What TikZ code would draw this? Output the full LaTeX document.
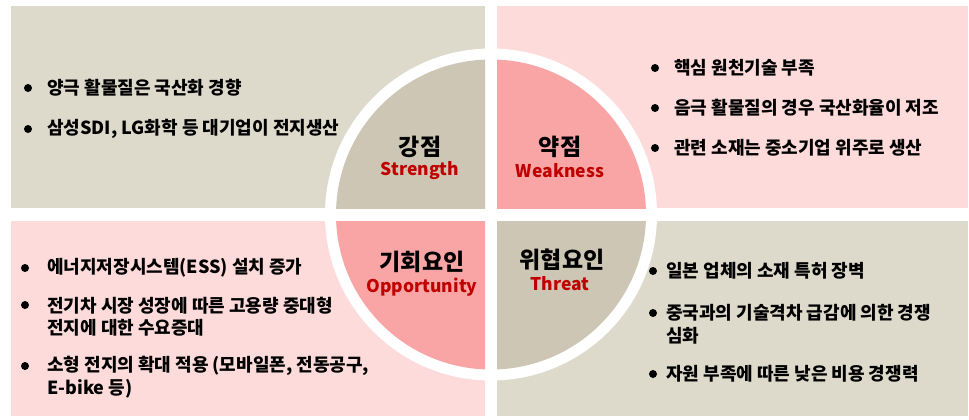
\documentclass[tikz,border=0pt]{standalone}
\usepackage{fontspec}
\setmainfont{Noto Sans CJK KR}
\definecolor{beigeL}{RGB}{222,218,203}
\definecolor{beigeD}{RGB}{205,198,180}
\definecolor{pinkL}{RGB}{253,219,219}
\definecolor{pinkD}{RGB}{249,165,165}
\definecolor{strred}{RGB}{192,0,0}
\begin{document}
\begin{tikzpicture}[x=1pt,y=-1pt,
 item/.style={anchor=west, inner sep=0pt, font=\bfseries\fontsize{18}{22.5}\selectfont, align=left},
 title/.style={inner sep=0pt, font=\bfseries\fontsize{23}{26}\selectfont},
 sub/.style={inner sep=0pt, text=strred, font=\bfseries\fontsize{17.5}{20}\selectfont},
 dot/.style={fill=black}
]
\useasboundingbox (0,0) rectangle (969,420);
\fill[white] (0,0) rectangle (969,420);
% quadrants
\fill[beigeL] (11,6) rectangle (485,208);
\fill[pinkL] (497,6) rectangle (968,208);
\fill[pinkL] (11,221) rectangle (485,416);
\fill[beigeL] (497,221) rectangle (968,416);
% central circle
\fill[white] (491,214.5) circle (166);
\begin{scope}\clip (11,6) rectangle (485,208); \fill[beigeD] (491,214.5) circle (155); \end{scope}
\begin{scope}\clip (497,6) rectangle (968,208); \fill[pinkD] (491,214.5) circle (155); \end{scope}
\begin{scope}\clip (11,221) rectangle (485,416); \fill[pinkD] (491,214.5) circle (155); \end{scope}
\begin{scope}\clip (497,221) rectangle (968,416); \fill[beigeD] (491,214.5) circle (155); \end{scope}
% center labels
\node[title] (sK) at (420,147) {강점};
\node[sub] (sE) at (420,171) {Strength};
\node[title] (wK) at (560,147) {약점};
\node[sub] (wE) at (560,171) {Weakness};
\node[title] (oK) at (422,262) {기회요인};
\node[sub] (oE) at (422,287) {Opportunity};
\node[title] (tK) at (562,260) {위협요인};
\node[sub] (tE) at (560,284) {Threat};
% strength items
\fill[dot] (28,88) circle (4);
\fill[dot] (28,129) circle (4);
\node[item] (s1) at (47,88) {양극 활물질은 국산화 경향};
\node[item] (s2) at (47,129) {삼성SDI, LG화학 등 대기업이 전지생산};
% weakness items
\fill[dot] (655,68) circle (4);
\fill[dot] (655,108) circle (4);
\fill[dot] (655,148) circle (4);
\node[item] (w1) at (674,68) {핵심 원천기술 부족};
\node[item] (w2) at (674,108) {음극 활물질의 경우 국산화율이 저조};
\node[item] (w3) at (674,148) {관련 소재는 중소기업 위주로 생산};
% opportunity items
\fill[dot] (25,268) circle (4);
\fill[dot] (25,305) circle (4);
\fill[dot] (25,366) circle (4);
\node[item] (o1) at (47,268) {에너지저장시스템(ESS) 설치 증가};
\node[item] (o2) at (47,316.5) {전기차 시장 성장에 따른 고용량 중대형\\전지에 대한 수요증대};
\node[item] (o3) at (47,377) {소형 전지의 확대 적용 (모바일폰, 전동공구,\\E-bike 등)};
% threat items
\fill[dot] (653,271) circle (4);
\fill[dot] (653,313) circle (4);
\fill[dot] (653,374) circle (4);
\node[item] (t1) at (666,271) {일본 업체의 소재 특허 장벽};
\node[item] (t2) at (666,324) {중국과의 기술격차 급감에 의한 경쟁\\심화};
\node[item] (t3) at (666,374) {자원 부족에 따른 낮은 비용 경쟁력};
\end{tikzpicture}
\end{document}
